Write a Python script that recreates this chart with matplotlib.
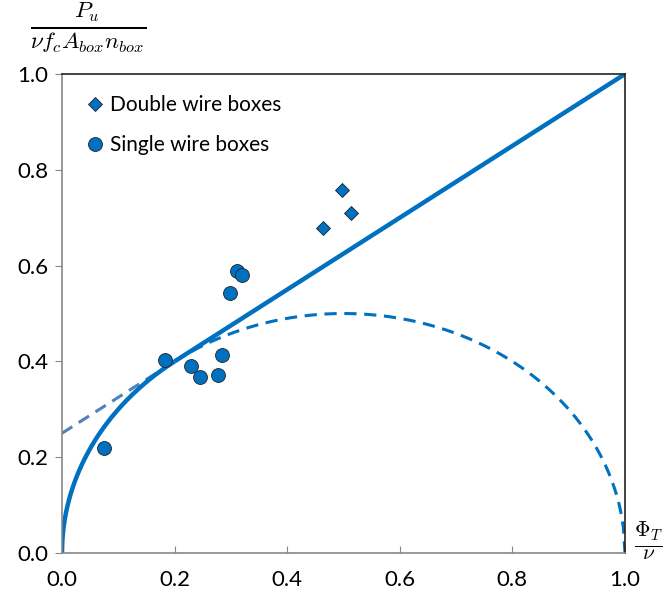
import numpy as np
import matplotlib
matplotlib.use('Agg')
import matplotlib.pyplot as plt

plt.rcParams['font.family'] = ['Lato', 'DejaVu Sans']
plt.rcParams['mathtext.fontset'] = 'cm'

# measured points
single_x = [0.075, 0.183, 0.229, 0.245, 0.277, 0.284, 0.298, 0.311, 0.320]
single_y = [0.219, 0.403, 0.390, 0.367, 0.372, 0.413, 0.543, 0.589, 0.580]
double_x = [0.464, 0.497, 0.513]
double_y = [0.678, 0.758, 0.710]

# theoretical curves: half circle (r = 0.5) and its tangent line through (1, 1)
radius = 0.5
line_slope = 0.75
line_intercept = 0.25
x_tangent = 0.2

ticks = [0.0, 0.2, 0.4, 0.6, 0.8, 1.0]
blue = '#0070C0'
light_blue = '#4F81BD'

fig = plt.figure(figsize=(6.65, 5.97), dpi=100)
ax = fig.add_axes([0.0932, 0.0737, 0.8466, 0.8023])

def circle(x):
    return np.sqrt(np.clip(radius**2 - (x - radius)**2, 0, None))

def line(x):
    return line_intercept + line_slope * x

x1 = np.linspace(0, x_tangent, 300)
x2 = np.linspace(x_tangent, 1, 300)

ax.plot(x1, line(x1), '--', color=light_blue, lw=2.2, dashes=(4, 2.5))
ax.plot(x2, circle(x2), '--', color=blue, lw=2.2, dashes=(4, 2.5))
ax.plot(x1, circle(x1), '-', color=blue, lw=3.2, solid_capstyle='butt')
ax.plot(x2, line(x2), '-', color=blue, lw=3.2, solid_capstyle='butt')

ax.plot(double_x, double_y, 'D', color=blue, ms=7, mec='#222222', mew=0.6,
        linestyle='none', label='Double wire boxes', clip_on=False)
ax.plot(single_x, single_y, 'o', color=blue, ms=10, mec='#222222', mew=0.6,
        linestyle='none', label='Single wire boxes', clip_on=False)

ax.set_xlim(0, 1)
ax.set_ylim(0, 1)
ax.set_xticks(ticks)
ax.set_yticks(ticks)
ax.set_xticklabels(['%.1f' % t for t in ticks])
ax.set_yticklabels(['%.1f' % t for t in ticks])
ax.tick_params(axis='x', direction='in', length=5, color='#888888', labelsize=16, pad=12)
ax.tick_params(axis='y', direction='out', length=5, color='#888888', labelsize=16, pad=5)

for s in ['left', 'bottom']:
    ax.spines[s].set_color('#888888')
    ax.spines[s].set_linewidth(1.2)
for s in ['top', 'right']:
    ax.spines[s].set_color('#222222')
    ax.spines[s].set_linewidth(1.2)

fig.text(0.132, 0.955, r'$\frac{P_u}{\nu f_c A_{box} n_{box}}$', fontsize=24,
         ha='center', va='center')
fig.text(0.975, 0.092, r'$\frac{\Phi_T}{\nu}$', fontsize=22, ha='center', va='center')

ax.legend(loc='upper left', bbox_to_anchor=(0.0, 0.995), frameon=False,
          fontsize=15, handletextpad=0.0, labelspacing=0.95,
          borderaxespad=0.5, handlelength=1.4)

fig.savefig('out.png', dpi=100)
